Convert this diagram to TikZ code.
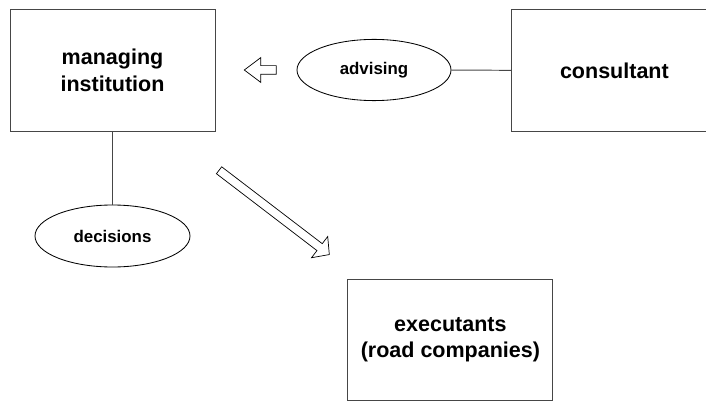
\documentclass[tikz,border=0pt]{standalone}
\usepackage{fontspec}
\setmainfont{Liberation Sans}
\usepackage{tikz}
\usetikzlibrary{positioning,shapes,arrows}
\definecolor{framegray}{RGB}{70,70,70}

\tikzset{
  unitbox/.style={draw=framegray, line width=0.7pt, rectangle, minimum width=5.125cm, minimum height=3.05cm, align=center, font=\bfseries\fontsize{15.3}{19}\selectfont},
  taskoval/.style={draw=black, line width=0.6pt, ellipse, minimum width=3.85cm, minimum height=1.53cm, font=\bfseries\fontsize{12}{14}\selectfont},
  flowarrow/.style={draw=black, line width=0.5pt, single arrow, inner xsep=0pt, inner ysep=0.1cm, single arrow head indent=0pt}
}

\begin{document}
\begin{tikzpicture}
\clip (0,0) rectangle (17.65,-10.025);

% Managing institution
\node[unitbox] (manager) at (2.8125,-1.7625) {managing\\institution};

% Consultant
\node[unitbox] (consultant) at (15.36,-1.7625) {consultant};

% Executants
\node[unitbox, minimum height=3.03cm] (executants) at (11.26,-8.49) {executants\\(road companies)};

% Ellipses
\node[taskoval] (advising) at (9.35,-1.75) {advising};
\node[taskoval, minimum width=3.875cm, minimum height=1.55cm] (decisions) at (2.8125,-5.9) {decisions};

% Block arrows
\node[flowarrow, minimum height=0.8cm, single arrow head extend=0.2cm, single arrow tip angle=74, rotate=180] (toleft) at (6.58,-1.75) {};
\node[flowarrow, minimum height=3.47cm, single arrow head extend=0.225cm, single arrow tip angle=95, rotate=-37.4] (todown) at (6.815,-5.28) {};

\draw[framegray, line width=0.7pt] (manager) -- (decisions);
\draw[framegray, line width=0.7pt] (advising) -- (consultant);
\end{tikzpicture}
\end{document}
